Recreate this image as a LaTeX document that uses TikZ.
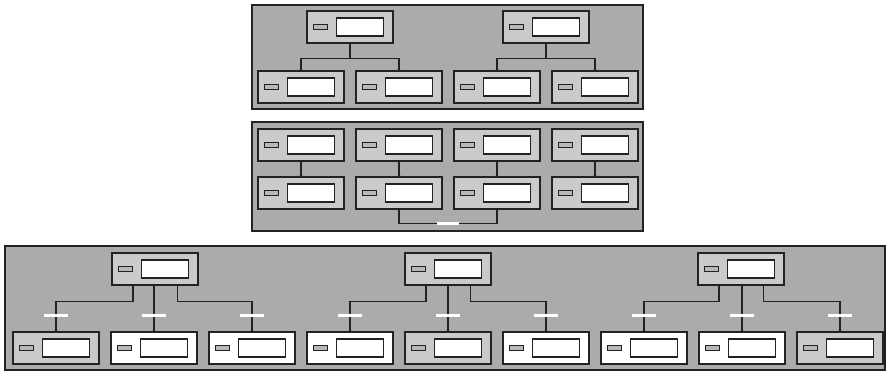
\documentclass[tikz,border=0pt]{standalone}
\definecolor{bggray}{HTML}{ABABAB}
\definecolor{nodegray}{HTML}{CACACA}
\definecolor{ledgray}{HTML}{B8B8B8}
\definecolor{ink}{HTML}{222222}
\tikzset{
  panel/.style={draw=ink, line width=1.2pt, fill=bggray, rectangle, inner sep=0pt},
  devbox/.style={draw=ink, line width=1.5pt, rectangle, inner sep=0pt, minimum width=86pt, minimum height=32pt},
  ledbox/.style={draw=ink, line width=1pt, fill=ledgray, rectangle, inner sep=0pt, minimum width=14pt, minimum height=5.5pt},
  dispbox/.style={draw=ink, line width=1.2pt, fill=white, rectangle, inner sep=0pt, minimum width=47pt, minimum height=18pt},
  wire/.style={draw=ink, line width=1.3pt},
  gapmark/.style={fill=white, rectangle, inner sep=0pt, minimum width=24pt, minimum height=3pt},
}
\newcommand\devbox[4]{%
  \node[devbox, fill=#4] (#1) at (#2+43,#3+16) {};
  \node[ledbox] (#1-l) at ([xshift=14pt]#1.west) {};
  \node[dispbox] (#1-d) at ([xshift=53.5pt]#1.west) {};
}
\newcommand\jdot[1]{\fill[ink] (#1) circle (1.8pt);}
\begin{document}
\begin{tikzpicture}[x=1pt,y=-1pt]
\useasboundingbox (0,0) rectangle (888,373);
% panels
\node[panel, minimum width=391pt, minimum height=104pt] (P1) at (447.5,57) {};
\node[panel, minimum width=391pt, minimum height=109pt] (P2) at (447.5,176.5) {};
\node[panel, minimum width=880pt, minimum height=124pt] (P3) at (445,308) {};

% ---------- panel 1 ----------
\devbox{A1}{307}{11}{nodegray}
\devbox{A2}{503}{11}{nodegray}
\devbox{A11}{258}{71}{nodegray}
\devbox{A12}{356}{71}{nodegray}
\devbox{A21}{454}{71}{nodegray}
\devbox{A22}{552}{71}{nodegray}
\foreach \p/\c in {A1/A11, A1/A12, A2/A21, A2/A22}{
  \draw[wire] (\p.south) -- ([yshift=-15pt]\p.south) -| (\c.north);
  \jdot{\c.north}
}

% ---------- panel 2 ----------
\foreach \i/\x in {1/258, 2/356, 3/454, 4/552}{
  \devbox{B\i}{\x}{129}{nodegray}
  \devbox{C\i}{\x}{177}{nodegray}
  \draw[wire] (B\i.south) -- (C\i.north);
  \jdot{C\i.north}
}
\draw[wire] (C2.south) -- ([yshift=-14pt]C2.south) coordinate (bl) -| (C3.south);
\node[gapmark, minimum width=22pt] (G0) at ([xshift=48.5pt]bl) {};

% ---------- panel 3 ----------
\devbox{T1}{112}{253}{nodegray}
\devbox{T2}{405}{253}{nodegray}
\devbox{T3}{698}{253}{nodegray}
\foreach \k/\x/\f in {1/13/nodegray, 2/111/white, 3/209/white, 4/307/white, 5/405/nodegray,
                      6/503/white, 7/601/white, 8/699/white, 9/797/nodegray}{
  \devbox{D\k}{\x}{332}{\f}
}
\foreach \t/\a/\b/\c in {T1/D1/D2/D3, T2/D4/D5/D6, T3/D7/D8/D9}{
  \draw[wire] ([xshift=-22pt]\t.south) -- ([xshift=-22pt,yshift=-16pt]\t.south) -| (\a.north);
  \draw[wire] (\b.north |- \t.south) -- (\b.north);
  \draw[wire] ([xshift=22.5pt]\t.south) -- ([xshift=22.5pt,yshift=-16pt]\t.south) -| (\c.north);
  \jdot{\a.north}
  \jdot{\b.north}
  \jdot{\c.north}
}
\foreach \k in {1,...,9}{
  \node[gapmark] (H\k) at ([yshift=16pt]D\k.north) {};
}
\end{tikzpicture}
\end{document}
